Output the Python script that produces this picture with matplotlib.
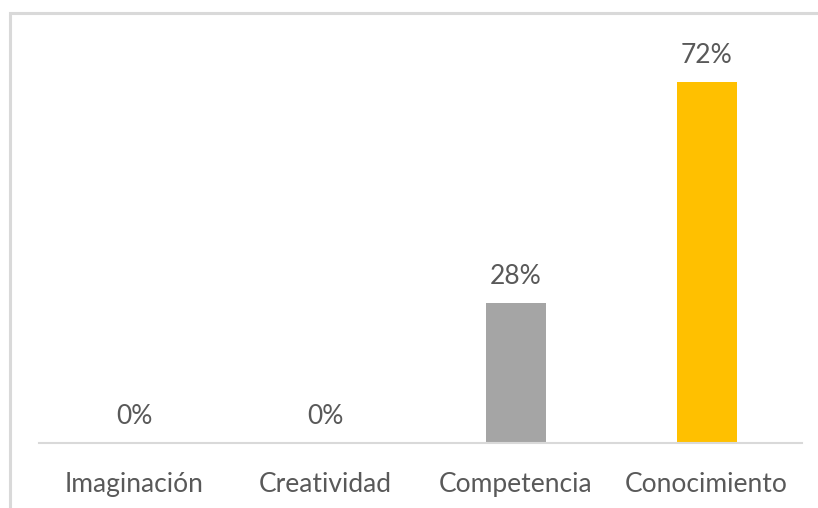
import matplotlib
matplotlib.use("Agg")
import matplotlib.pyplot as plt
from matplotlib.patches import Rectangle

categories = ["Imaginación", "Creatividad", "Competencia", "Conocimiento"]
values = [0, 0, 28, 72]
colors = ["#A5A5A5", "#A5A5A5", "#A5A5A5", "#FFC000"]

W, H = 818, 508
plt.rcParams["font.family"] = ["Lato", "DejaVu Sans"]
text_color = "#595959"
line_color = "#D9D9D9"

fig = plt.figure(figsize=(W / 100, H / 100), dpi=100)

# plot area in pixel coordinates (left, top, right, bottom)
left, top, right, bottom = 39, 42, 802, 443
ax = fig.add_axes([left / W, 1 - bottom / H, (right - left) / W, (bottom - top) / H])

x = range(len(categories))
bars = ax.bar(x, values, width=0.315, color=colors, zorder=2)
ax.set_xlim(-0.5, len(categories) - 0.5)
ax.set_ylim(0, 80)

for rect, v in zip(bars, values):
    ax.annotate(f"{v}%", (rect.get_x() + rect.get_width() / 2, v),
                xytext=(0, 14), textcoords="offset pixels",
                ha="center", va="bottom", fontsize=19, color=text_color)

ax.set_xticks(list(x))
ax.set_xticklabels(categories, fontsize=19, color=text_color)
ax.tick_params(axis="x", length=0, pad=21)
ax.set_yticks([])
for side in ["top", "right", "left"]:
    ax.spines[side].set_visible(False)
ax.spines["bottom"].set_color(line_color)
ax.spines["bottom"].set_linewidth(1.5)

# chart frame, cut off at the right and bottom
frame = Rectangle((9.5 / W, -0.1), 1.2, 1 - 13.5 / H + 0.1, transform=fig.transFigure,
                  fill=False, edgecolor=line_color, linewidth=2.2)
fig.patches.append(frame)

fig.savefig("out.png", dpi=100, facecolor="white")
